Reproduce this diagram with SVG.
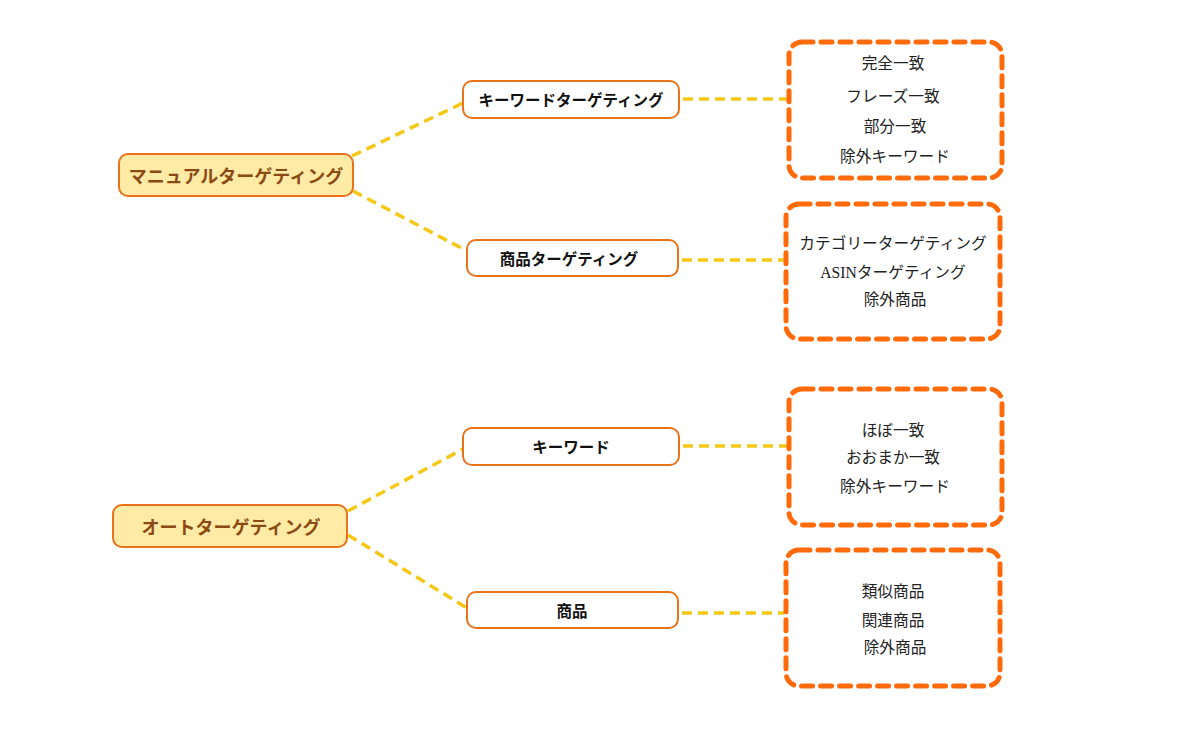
<svg xmlns="http://www.w3.org/2000/svg" width="1188" height="740" viewBox="0 0 1188 740">
<style>
.root rect{fill:#FFEBA6;stroke:#E8731A;stroke-width:2}
.root text{font-family:"Noto Sans CJK JP","Liberation Serif",serif;font-size:18px;font-weight:bold;fill:#8B4A14;text-anchor:middle;dominant-baseline:central}
.child rect{fill:#fff;stroke:#E8731A;stroke-width:2}
.child text{font-family:"Noto Sans CJK JP","Liberation Serif",serif;font-size:15.5px;font-weight:bold;fill:#111;text-anchor:middle;dominant-baseline:central}
.leaf rect{fill:#fff;stroke:#FF6A0A;stroke-width:5;stroke-dasharray:11 8;stroke-linecap:round}
.leaf text{font-family:"Liberation Serif","Noto Sans CJK JP",serif;font-size:15.7px;fill:#222;text-anchor:middle;dominant-baseline:central}
.conn line{stroke:#F5C817;stroke-width:3.5;stroke-dasharray:10 6}
</style>
<rect width="1188" height="740" fill="#fff"/>
<g class="conn" id="connectors">
<line x1="352" y1="156" x2="463" y2="103"/>
<line x1="353" y1="191" x2="467" y2="251"/>
<line x1="683" y1="99" x2="787" y2="99"/>
<line x1="682" y1="260" x2="784" y2="260"/>
<line x1="348" y1="511" x2="463" y2="449"/>
<line x1="348" y1="535" x2="467" y2="608"/>
<line x1="683" y1="446" x2="787" y2="446"/>
<line x1="682" y1="613" x2="784" y2="613"/>
</g>
<g class="root" id="n-manual"><rect x="119" y="154" width="234" height="42" rx="9"/><text x="236" y="175">マニュアルターゲティング</text></g>
<g class="root" id="n-auto"><rect x="113" y="505" width="234" height="42" rx="9"/><text x="231" y="526">オートターゲティング</text></g>
<g class="child" id="n-kw-targeting"><rect x="463" y="81" width="216" height="37" rx="9"/><text x="571" y="99">キーワードターゲティング</text></g>
<g class="child" id="n-product-targeting"><rect x="467" y="240" width="211" height="36" rx="9"/><text x="569" y="257.5">商品ターゲティング</text></g>
<g class="child" id="n-kw"><rect x="463" y="428" width="216" height="37" rx="9"/><text x="571" y="446">キーワード</text></g>
<g class="child" id="n-product"><rect x="467" y="592" width="211" height="36" rx="9"/><text x="572" y="609.5">商品</text></g>
<g class="leaf" id="n-leaf1"><rect x="789" y="42" width="213" height="136" rx="13"/>
<text x="893" y="63">完全一致</text><text x="893" y="96">フレーズ一致</text><text x="895" y="126">部分一致</text><text x="895" y="156">除外キーワード</text></g>
<g class="leaf" id="n-leaf2"><rect x="786" y="204" width="214" height="135" rx="13"/>
<text x="893" y="243">カテゴリーターゲティング</text><text x="893" y="272">ASINターゲティング</text><text x="895" y="299">除外商品</text></g>
<g class="leaf" id="n-leaf3"><rect x="789" y="389" width="213" height="136" rx="13"/>
<text x="893" y="430">ほぼ一致</text><text x="893" y="457">おおまか一致</text><text x="895" y="486">除外キーワード</text></g>
<g class="leaf" id="n-leaf4"><rect x="786" y="550" width="214" height="136" rx="13"/>
<text x="893" y="591">類似商品</text><text x="893" y="620">関連商品</text><text x="895" y="647">除外商品</text></g>
</svg>
